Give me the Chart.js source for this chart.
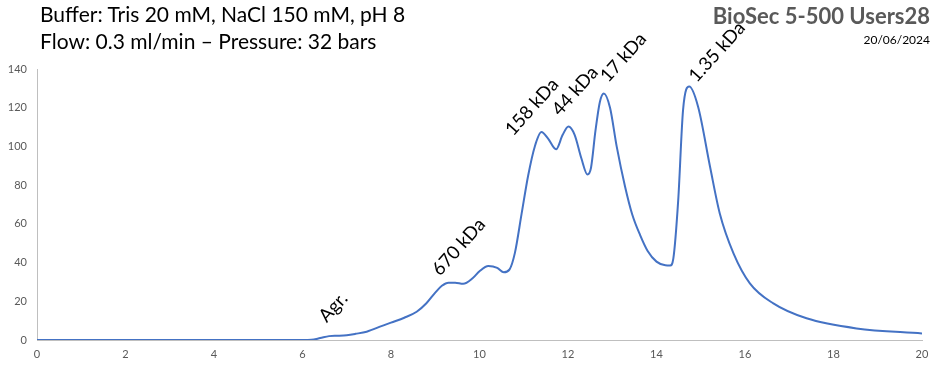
<!DOCTYPE html>
<html>
<head>
<meta charset="utf-8">
<script src="https://cdn.jsdelivr.net/npm/chart.js@4.4.1/dist/chart.umd.min.js"></script>
<style>
  html, body { margin: 0; padding: 0; background: #fff; }
  #wrap { position: relative; width: 943px; height: 371px; overflow: hidden; }
  canvas { position: absolute; left: 0; top: 0; }
  .t { position: absolute; font-family: Lato, "Open Sans", sans-serif; white-space: nowrap; }
  #t1 { left: 40px; top: 1px; font-size: 21px; color: #000; }
  #t2 { left: 40px; top: 28px; font-size: 21px; color: #000; }
  #t3 { right: 13px; top: 2px; font-size: 22px; font-weight: bold; color: #595959; }
  #t4 { right: 13px; top: 32px; font-size: 12px; color: #000; }
</style>
</head>
<body>
<div id="wrap">
  <canvas id="c" width="943" height="371"></canvas>
  <div class="t" id="t1">Buffer: Tris 20 mM, NaCl 150 mM, pH 8</div>
  <div class="t" id="t2">Flow: 0.3 ml/min – Pressure: 32 bars</div>
  <div class="t" id="t3">BioSec 5-500 Users28</div>
  <div class="t" id="t4">20/06/2024</div>
</div>
<script>
// Elution volume (ml) and absorbance
const volumes = [0, 1, 2, 3, 4, 5, 6, 6.2, 6.4, 6.6, 6.8, 7.0, 7.2, 7.45, 7.8, 8.0, 8.3, 8.58, 8.8, 9.0, 9.15, 9.3, 9.45, 9.63, 9.85, 10.0, 10.2, 10.4, 10.55, 10.68, 10.8, 10.95, 11.1, 11.25, 11.4, 11.55, 11.73, 11.88, 12.01, 12.15, 12.3, 12.44, 12.52, 12.62, 12.72, 12.81, 12.95, 13.1, 13.29, 13.45, 13.63, 13.8, 14.0, 14.2, 14.31, 14.38, 14.49, 14.6, 14.74, 14.94, 15.21, 15.43, 15.74, 16.11, 16.64, 17.39, 18.52, 20];
const absorbance = [0, 0, 0, 0, 0, 0, 0, 0.1, 1.0, 2.0, 2.2, 2.5, 3.2, 4.3, 7.3, 9, 11.5, 14.6, 19, 24.5, 28, 29.6, 29.6, 29.0, 32, 35.5, 38.2, 37.3, 35, 36.5, 45, 65, 85, 100, 107.4, 104, 98.5, 106, 110.3, 106, 94, 85.5, 89, 108, 123, 127.4, 120, 100, 79.2, 65, 54.2, 46, 40.5, 38.6, 38.5, 42, 72, 118.8, 130.9, 120.5, 89.5, 65.4, 44.8, 29.3, 18.9, 11.2, 6.0, 3.4];
const xTicks = [0, 2, 4, 6, 8, 10, 12, 14, 16, 18, 20];
const yTicks = [0, 20, 40, 60, 80, 100, 120, 140];
// Peak labels and the data point where each label starts
const peakLabels = ["Agr.", "670 kDa", "158 kDa", "44 kDa", "17 kDa", "1.35 kDa"];
const peakLabelX = [6.55, 9.11, 10.76, 11.82, 12.91, 14.91];
const peakLabelY = [8.6, 32.7, 105, 115.3, 132.6, 132.6];

const pts = volumes.map((v, i) => ({ x: v, y: absorbance[i] }));

const labelPlugin = {
  id: 'peakLabels',
  afterDatasetsDraw(chart) {
    const ctx = chart.ctx;
    const xs = chart.scales.x, ys = chart.scales.y;
    ctx.save();
    ctx.font = '18.5px Lato, "Open Sans", sans-serif';
    ctx.fillStyle = '#000';
    ctx.textBaseline = 'alphabetic';
    ctx.textAlign = 'left';
    peakLabels.forEach((t, i) => {
      const px = xs.getPixelForValue(peakLabelX[i]);
      const py = ys.getPixelForValue(peakLabelY[i]);
      ctx.save();
      ctx.translate(px, py);
      ctx.rotate(-48 * Math.PI / 180);
      ctx.fillText(t, 0, 0);
      ctx.restore();
    });
    ctx.restore();
  }
};

new Chart(document.getElementById('c'), {
  type: 'line',
  data: {
    datasets: [{
      data: pts,
      borderColor: '#4472C4',
      borderWidth: 2,
      pointRadius: 0,
      fill: false,
      cubicInterpolationMode: 'monotone'
    }]
  },
  options: {
    responsive: false,
    animation: false,
    devicePixelRatio: 1,
    layout: { padding: { left: 0, right: 21, top: 69, bottom: 0 } },
    plugins: { legend: { display: false }, tooltip: { enabled: false } },
    scales: {
      x: {
        type: 'linear', min: 0, max: 20,
        afterBuildTicks(s) { s.ticks = xTicks.map(v => ({ value: v })); },
        afterFit(s) { s.height = 31; },
        grid: { display: false, drawTicks: false },
        border: { display: true, color: '#BFBFBF', width: 1 },
        ticks: { padding: 8, color: '#595959', font: { family: 'Lato, "Open Sans", sans-serif', size: 11 }, maxRotation: 0 }
      },
      y: {
        min: 0, max: 140,
        afterBuildTicks(s) { s.ticks = yTicks.map(v => ({ value: v })); },
        afterFit(s) { s.width = 37; },
        grid: { display: false, drawTicks: false },
        border: { display: true, color: '#BFBFBF', width: 1 },
        ticks: { padding: 10, color: '#595959', font: { family: 'Lato, "Open Sans", sans-serif', size: 11 } }
      }
    }
  },
  plugins: [labelPlugin]
});
</script>
</body>
</html>
